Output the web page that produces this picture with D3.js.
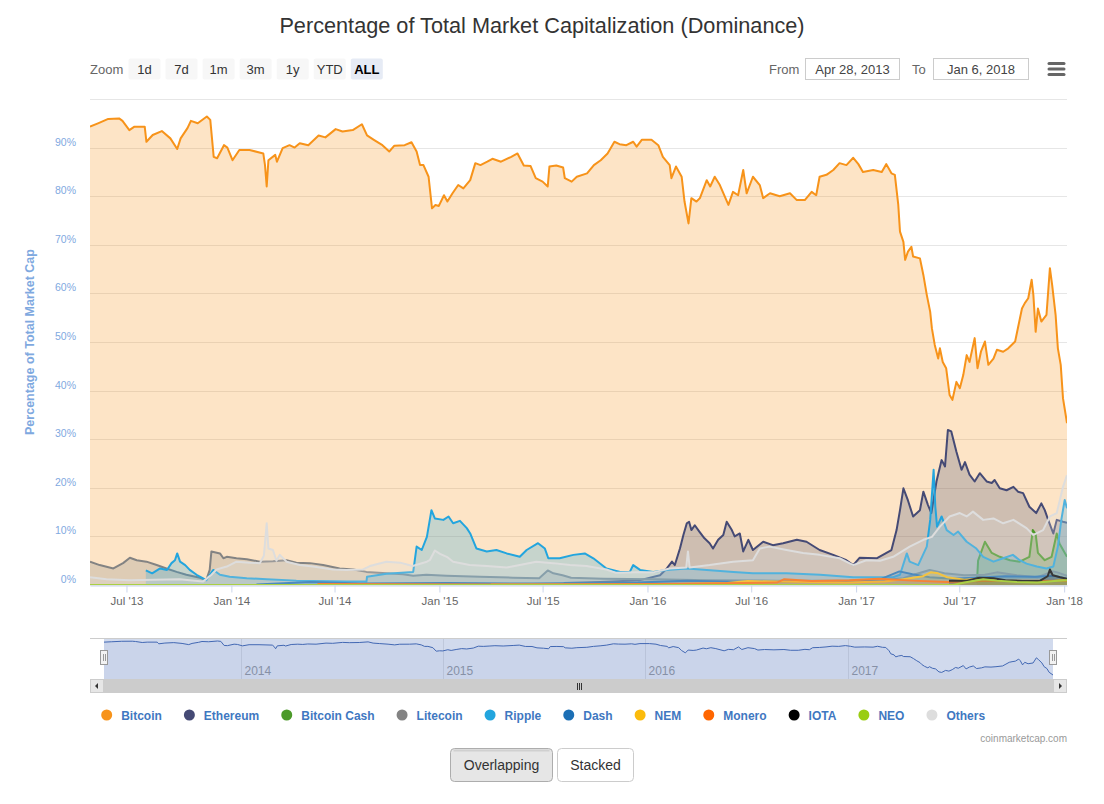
<!DOCTYPE html>
<html>
<head>
<meta charset="utf-8">
<script src="https://cdnjs.cloudflare.com/ajax/libs/d3/7.8.5/d3.min.js"></script>
<style>
body { margin: 0; background: #fff; }
svg { display: block; font-family: "Liberation Sans", Arial, sans-serif; }
</style>
</head>
<body>
<script>
// ---- data ----
var chartTitle = "Percentage of Total Market Capitalization (Dominance)";
var startDate = "2013-04-28";
var endDate = "2018-01-06";

var seriesNames = ["Bitcoin", "Ethereum", "Bitcoin Cash", "Litecoin", "Ripple", "Dash", "NEM", "Monero", "IOTA", "NEO", "Others"];
var seriesColors = ["#f7931a", "#454a75", "#4c9a2a", "#838383", "#23a5de", "#1c6fb5", "#fbbb0c", "#ff6600", "#000000", "#9acd12", "#dddddd"];

var bitcoin = [["2013-04-28",94.3],["2013-05-12",95.0],["2013-05-30",95.9],["2013-06-18",96.0],["2013-06-24",95.5],["2013-07-06",93.6],["2013-07-15",94.3],["2013-08-02",94.3],["2013-08-05",91.2],["2013-08-16",92.6],["2013-09-01",93.4],["2013-09-16",91.9],["2013-09-28",89.7],["2013-10-04",91.9],["2013-10-16",94.0],["2013-10-22",95.5],["2013-11-03",95.0],["2013-11-19",96.4],["2013-11-25",95.7],["2013-12-01",88.1],["2013-12-07",87.8],["2013-12-19",90.5],["2013-12-25",90.0],["2014-01-03",87.4],["2014-01-15",89.5],["2014-02-02",89.5],["2014-02-26",88.8],["2014-03-01",86.4],["2014-03-04",82.0],["2014-03-07",87.4],["2014-03-19",88.5],["2014-03-22",87.1],["2014-04-01",89.9],["2014-04-13",90.5],["2014-04-22",90.0],["2014-05-01",90.9],["2014-05-16",90.5],["2014-06-03",92.5],["2014-06-15",92.1],["2014-07-03",93.8],["2014-07-15",93.3],["2014-08-02",93.6],["2014-08-18",94.8],["2014-08-27",92.5],["2014-09-08",91.6],["2014-09-23",90.5],["2014-10-05",89.2],["2014-10-14",90.4],["2014-11-01",90.5],["2014-11-13",91.1],["2014-11-22",89.2],["2014-11-28",86.4],["2014-12-04",86.4],["2014-12-13",84.0],["2014-12-19",77.5],["2014-12-25",78.2],["2014-12-31",78.0],["2015-01-09",80.2],["2015-01-15",78.9],["2015-01-24",80.6],["2015-02-03",82.3],["2015-02-12",81.6],["2015-02-24",83.3],["2015-03-05",86.8],["2015-03-14",86.4],["2015-03-26",87.1],["2015-04-04",87.7],["2015-04-19",87.1],["2015-05-07",88.1],["2015-05-18",88.8],["2015-05-29",86.3],["2015-06-10",86.2],["2015-06-19",83.7],["2015-07-01",83.0],["2015-07-10",82.0],["2015-07-13",86.1],["2015-07-25",86.3],["2015-08-06",85.9],["2015-08-09",83.7],["2015-08-21",83.0],["2015-08-30",84.0],["2015-09-17",84.7],["2015-09-29",86.4],["2015-10-11",87.4],["2015-10-23",88.8],["2015-11-04",91.2],["2015-11-13",90.7],["2015-11-25",90.5],["2015-12-07",91.2],["2015-12-13",90.2],["2015-12-22",91.6],["2016-01-08",91.6],["2016-01-20",90.5],["2016-01-28",88.1],["2016-02-09",86.4],["2016-02-12",83.7],["2016-02-20",86.1],["2016-03-01",84.0],["2016-03-06",78.9],["2016-03-13",74.4],["2016-03-18",79.6],["2016-03-27",78.9],["2016-04-02",79.6],["2016-04-14",83.3],["2016-04-20",82.0],["2016-04-28",84.0],["2016-05-07",82.3],["2016-05-22",78.2],["2016-05-30",80.9],["2016-06-08",80.2],["2016-06-17",85.4],["2016-06-23",80.6],["2016-07-04",84.0],["2016-07-16",82.3],["2016-07-22",79.6],["2016-08-03",80.6],["2016-08-20",80.0],["2016-09-07",80.6],["2016-09-19",79.2],["2016-10-03",79.2],["2016-10-15",80.9],["2016-10-23",80.2],["2016-10-29",84.0],["2016-11-10",84.4],["2016-11-22",85.4],["2016-12-03",86.8],["2016-12-15",86.4],["2016-12-27",87.9],["2017-01-05",86.6],["2017-01-13",85.0],["2017-01-31",85.4],["2017-02-15",85.0],["2017-02-23",86.6],["2017-03-04",84.7],["2017-03-10",84.4],["2017-03-16",78.2],["2017-03-19",72.7],["2017-03-25",70.6],["2017-03-28",66.9],["2017-04-02",68.6],["2017-04-08",69.6],["2017-04-11",67.6],["2017-04-23",67.2],["2017-04-29",63.8],["2017-05-05",59.7],["2017-05-11",56.2],["2017-05-14",52.8],["2017-05-19",49.4],["2017-05-25",46.6],["2017-05-28",48.7],["2017-06-02",45.9],["2017-06-08",44.6],["2017-06-14",39.1],["2017-06-19",38.1],["2017-06-26",41.8],["2017-07-02",40.5],["2017-07-08",43.2],["2017-07-14",47.3],["2017-07-19",45.9],["2017-07-28",50.8],["2017-08-02",44.6],["2017-08-08",48.0],["2017-08-15",50.1],["2017-08-21",45.3],["2017-08-30",46.6],["2017-09-05",48.4],["2017-09-16",48.0],["2017-09-25",48.7],["2017-10-07",50.1],["2017-10-13",53.5],["2017-10-19",56.9],["2017-10-24",58.0],["2017-10-30",59.0],["2017-11-05",62.8],["2017-11-08",59.7],["2017-11-12",52.1],["2017-11-16",56.9],["2017-11-22",54.2],["2017-12-01",55.6],["2017-12-07",65.2],["2017-12-11",61.7],["2017-12-17",55.6],["2017-12-21",48.7],["2017-12-26",45.3],["2017-12-30",38.4],["2018-01-06",33.3]];

var ethereum = [["2015-08-07",0.4],["2015-10-10",0.6],["2015-12-19",1.0],["2016-01-23",2.0],["2016-02-04",3.4],["2016-02-13",4.8],["2016-02-18",4.1],["2016-02-27",7.5],["2016-03-04",10.3],["2016-03-10",12.7],["2016-03-14",13.0],["2016-03-18",11.3],["2016-03-24",12.3],["2016-04-01",11.0],["2016-04-10",9.6],["2016-04-19",8.6],["2016-04-25",7.5],["2016-05-04",9.3],["2016-05-13",10.3],["2016-05-19",13.0],["2016-05-28",11.3],["2016-06-02",10.0],["2016-06-11",10.6],["2016-06-17",6.9],["2016-06-26",9.3],["2016-07-04",7.2],["2016-07-22",8.9],["2016-08-08",8.2],["2016-08-26",8.6],["2016-09-19",9.3],["2016-10-06",8.9],["2016-10-29",7.2],["2016-11-22",6.2],["2016-12-15",5.1],["2016-12-27",4.1],["2017-01-07",5.6],["2017-02-06",5.5],["2017-02-17",6.2],["2017-03-04",7.2],["2017-03-13",11.3],["2017-03-19",15.4],["2017-03-25",19.9],["2017-04-02",17.4],["2017-04-11",14.1],["2017-04-23",15.4],["2017-04-29",19.2],["2017-05-07",16.5],["2017-05-13",14.8],["2017-05-22",21.3],["2017-05-31",25.7],["2017-06-06",24.4],["2017-06-11",31.9],["2017-06-17",31.6],["2017-06-26",27.4],["2017-07-05",23.7],["2017-07-11",25.3],["2017-07-19",22.7],["2017-07-28",21.3],["2017-08-06",23.0],["2017-08-18",21.3],["2017-08-27",21.0],["2017-09-01",21.6],["2017-09-10",19.9],["2017-09-22",19.5],["2017-10-04",20.2],["2017-10-12",19.2],["2017-10-21",18.9],["2017-11-01",16.1],["2017-11-13",14.8],["2017-11-22",16.8],["2017-11-28",15.4],["2017-12-04",13.4],["2017-12-13",10.6],["2017-12-19",13.4],["2017-12-30",13.0],["2018-01-06",12.8]];

var bitcoinCash = [["2017-08-01",0.5],["2017-08-03",5.0],["2017-08-15",8.9],["2017-08-27",6.6],["2017-09-10",5.8],["2017-09-28",5.1],["2017-10-15",4.8],["2017-11-01",5.8],["2017-11-07",11.3],["2017-11-12",10.5],["2017-11-16",6.6],["2017-11-28",5.1],["2017-12-10",5.8],["2017-12-19",10.6],["2017-12-24",8.5],["2018-01-06",5.8]];

var litecoin = [["2013-04-28",4.8],["2013-05-15",4.1],["2013-06-08",3.4],["2013-06-25",4.5],["2013-07-07",5.6],["2013-07-19",5.1],["2013-08-05",4.8],["2013-08-23",4.1],["2013-09-09",3.4],["2013-09-27",2.7],["2013-10-14",2.1],["2013-11-07",1.5],["2013-11-18",1.0],["2013-11-24",3.1],["2013-11-27",6.9],["2013-12-12",6.5],["2013-12-18",5.5],["2013-12-24",5.8],["2014-01-10",5.5],["2014-01-28",5.3],["2014-02-20",4.8],["2014-03-15",4.9],["2014-04-08",5.1],["2014-04-25",4.6],["2014-05-19",4.5],["2014-06-11",4.1],["2014-07-10",3.4],["2014-08-03",3.2],["2014-08-26",2.7],["2014-09-30",2.4],["2014-10-29",2.2],["2014-11-16",1.9],["2014-12-09",2.1],["2015-01-13",1.9],["2015-03-13",1.7],["2015-05-10",1.5],["2015-06-25",1.4],["2015-07-10",3.0],["2015-07-20",2.4],["2015-08-05",2.0],["2015-08-20",1.5],["2015-10-15",1.3],["2016-01-15",1.2],["2016-04-15",1.0],["2016-08-15",0.9],["2016-12-15",0.9],["2017-02-15",1.0],["2017-03-25",1.4],["2017-04-15",2.2],["2017-05-10",3.1],["2017-06-05",2.4],["2017-07-10",2.0],["2017-08-15",2.1],["2017-09-05",2.6],["2017-10-10",2.0],["2017-11-15",1.6],["2017-12-12",2.8],["2017-12-20",2.6],["2018-01-06",1.9]];

var ripple = [["2013-08-04",3.0],["2013-08-15",2.4],["2013-08-29",3.4],["2013-09-10",3.1],["2013-09-18",4.5],["2013-09-24",5.1],["2013-09-28",6.5],["2013-10-03",4.8],["2013-10-12",4.1],["2013-10-20",3.1],["2013-11-01",2.1],["2013-11-18",1.0],["2013-11-30",3.1],["2013-12-12",2.1],["2013-12-29",1.7],["2014-01-28",1.4],["2014-03-04",1.2],["2014-04-25",0.9],["2014-07-22",0.7],["2014-08-26",0.7],["2014-08-27",1.7],["2014-09-30",2.3],["2014-11-16",2.7],["2014-11-22",7.9],["2014-12-01",7.2],["2014-12-10",9.9],["2014-12-18",15.4],["2014-12-24",13.7],["2015-01-08",13.4],["2015-01-17",14.1],["2015-01-25",12.7],["2015-02-06",13.2],["2015-02-18",11.7],["2015-02-24",10.6],["2015-03-07",7.5],["2015-03-25",6.9],["2015-04-11",7.2],["2015-04-29",6.5],["2015-05-22",5.8],["2015-06-03",7.2],["2015-06-23",8.6],["2015-07-05",7.5],["2015-07-11",5.5],["2015-07-31",5.5],["2015-08-24",6.2],["2015-09-13",6.5],["2015-09-28",5.5],["2015-10-21",3.4],["2015-11-14",2.7],["2015-12-01",2.7],["2015-12-07",4.1],["2015-12-19",3.1],["2016-01-11",2.7],["2016-02-04",3.1],["2016-03-10",3.4],["2016-04-14",3.1],["2016-05-31",2.7],["2016-07-04",2.4],["2016-09-01",2.4],["2016-10-30",2.1],["2016-12-27",1.6],["2017-02-11",1.6],["2017-03-07",1.6],["2017-03-19",2.1],["2017-03-31",6.5],["2017-04-05",4.8],["2017-04-20",4.1],["2017-05-05",7.9],["2017-05-11",13.4],["2017-05-17",23.7],["2017-05-20",16.1],["2017-05-23",12.0],["2017-05-31",14.1],["2017-06-09",11.3],["2017-06-21",10.3],["2017-06-29",11.0],["2017-07-14",8.9],["2017-07-31",7.5],["2017-08-12",5.8],["2017-08-30",4.8],["2017-09-16",5.5],["2017-10-03",6.2],["2017-10-15",5.1],["2017-10-27",4.4],["2017-11-14",3.8],["2017-12-01",3.4],["2017-12-13",3.8],["2017-12-21",7.9],["2017-12-27",13.4],["2018-01-02",17.5],["2018-01-06",15.8]];

var dash = [["2014-02-14",0.1],["2014-05-20",0.6],["2014-08-15",0.3],["2015-01-15",0.4],["2015-06-15",0.3],["2015-12-15",0.5],["2016-03-10",0.9],["2016-06-15",0.6],["2016-10-15",0.7],["2016-12-31",0.6],["2017-02-15",1.3],["2017-03-18",2.8],["2017-04-10",2.2],["2017-05-10",1.6],["2017-06-20",1.3],["2017-08-15",1.6],["2017-09-20",1.8],["2017-11-10",1.7],["2017-12-15",1.9],["2018-01-06",1.3]];

var nem = [["2015-04-01",0.1],["2016-01-15",0.1],["2016-05-20",0.4],["2016-06-25",0.8],["2016-08-15",0.7],["2016-12-15",0.5],["2017-02-20",0.7],["2017-03-25",1.2],["2017-04-28",1.8],["2017-05-12",2.6],["2017-05-25",2.4],["2017-06-10",1.6],["2017-07-10",1.1],["2017-08-05",1.3],["2017-09-15",0.9],["2017-11-10",0.6],["2017-12-15",0.9],["2018-01-06",1.2]];

var monero = [["2014-06-01",0.2],["2015-06-01",0.1],["2016-01-15",0.2],["2016-08-15",0.5],["2016-08-28",1.2],["2016-10-15",0.8],["2016-12-20",1.0],["2017-02-10",1.3],["2017-04-10",0.9],["2017-06-10",0.6],["2017-08-10",0.8],["2017-10-10",0.9],["2017-12-10",0.9],["2018-01-06",0.8]];

var iota = [["2017-06-13",0.9],["2017-07-15",0.9],["2017-08-05",1.5],["2017-08-30",1.4],["2017-09-20",1.0],["2017-10-20",0.8],["2017-11-20",0.9],["2017-12-03",1.8],["2017-12-07",3.2],["2017-12-12",2.0],["2017-12-25",1.6],["2018-01-06",1.3]];

var neo = [["2013-04-28",0],["2017-06-20",0],["2017-07-10",0.5],["2017-08-12",1.2],["2017-09-05",0.9],["2017-10-10",0.6],["2017-11-15",0.5],["2017-12-15",0.8],["2018-01-06",1.0]];

var others = [["2013-04-28",1.6],["2013-05-27",1.2],["2013-07-07",1.0],["2013-10-02",1.2],["2013-11-12",0.7],["2013-11-27",2.1],["2013-12-06",3.2],["2013-12-24",3.8],["2014-01-10",4.8],["2014-02-02",4.6],["2014-02-20",4.5],["2014-02-27",6.0],["2014-03-04",12.7],["2014-03-07",7.5],["2014-03-15",7.2],["2014-03-21",5.0],["2014-03-27",6.2],["2014-04-08",4.8],["2014-05-01",4.1],["2014-05-24",3.8],["2014-06-28",3.2],["2014-07-22",3.1],["2014-08-20",3.2],["2014-09-01",3.9],["2014-09-30",4.8],["2014-10-24",4.6],["2014-11-15",3.9],["2014-12-10",4.8],["2014-12-15",5.1],["2014-12-24",7.1],["2015-01-02",6.4],["2015-01-14",5.8],["2015-01-25",4.8],["2015-02-23",4.1],["2015-03-25",3.9],["2015-04-29",3.6],["2015-05-22",4.1],["2015-06-20",4.8],["2015-07-19",4.5],["2015-08-18",4.1],["2015-09-16",3.9],["2015-10-21",3.2],["2015-11-07",2.5],["2015-12-12",2.6],["2016-01-11",2.6],["2016-02-09",3.4],["2016-03-09",3.6],["2016-03-12",6.9],["2016-03-15",3.6],["2016-04-19",4.1],["2016-05-30",4.8],["2016-07-04",5.1],["2016-07-16",7.5],["2016-08-02",7.9],["2016-09-01",7.2],["2016-09-30",6.6],["2016-10-29",6.2],["2016-12-03",5.5],["2016-12-27",4.1],["2017-01-19",5.1],["2017-02-12",5.0],["2017-03-07",5.8],["2017-04-05",7.9],["2017-04-29",9.3],["2017-05-14",9.9],["2017-05-28",12.0],["2017-06-14",14.1],["2017-07-02",14.8],["2017-07-14",14.1],["2017-07-25",15.1],["2017-08-12",13.4],["2017-08-30",13.7],["2017-09-16",12.7],["2017-10-04",13.4],["2017-10-27",11.7],["2017-11-08",10.3],["2017-11-25",11.3],["2017-12-07",14.1],["2017-12-19",14.8],["2017-12-30",20.2],["2018-01-06",22.6]];

var seriesData = [bitcoin, ethereum, bitcoinCash, litecoin, ripple, dash, nem, monero, iota, neo, others];

var yTicks = [0, 10, 20, 30, 40, 50, 60, 70, 80, 90];
var xTickDates = ["2013-07-01", "2014-01-01", "2014-07-01", "2015-01-01", "2015-07-01", "2016-01-01", "2016-07-01", "2017-01-01", "2017-07-01", "2018-01-01"];
var navYearDates = ["2014-01-01", "2015-01-01", "2016-01-01", "2017-01-01"];
var zoomButtons = ["1d", "7d", "1m", "3m", "1y", "YTD", "ALL"];
var fromLabel = "Apr 28, 2013";
var toLabel = "Jan 6, 2018";
var modeButtons = ["Overlapping", "Stacked"];

// ---- layout ----
var parseDate = d3.timeParse("%Y-%m-%d");
var plot = {left: 90, right: 1067, top: 99, bottom: 585};
var nav = {left: 104, right: 1053, top: 638, bottom: 679};

var svg = d3.select("body")
    .append("svg")
    .attr("width", 1104)
    .attr("height", 804);

var xScale = d3.scaleTime()
    .domain([parseDate(startDate), parseDate(endDate)])
    .range([plot.left, plot.right]);

var yScale = d3.scaleLinear()
    .domain([0, 100])
    .range([plot.bottom, plot.top]);

// title
svg.append("text")
    .attr("x", 542)
    .attr("y", 33)
    .attr("text-anchor", "middle")
    .attr("fill", "#333333")
    .style("font-size", "21.7px")
    .text(chartTitle);

// range selector
svg.append("text")
    .attr("x", 90)
    .attr("y", 73.5)
    .attr("fill", "#666666")
    .style("font-size", "13px")
    .text("Zoom");

var zoomGroup = svg.append("g").attr("class", "zoomButtons");
zoomButtons.forEach(function(label, i) {
    var bx = 128.5 + i * 37.05;
    var selected = label === "ALL";
    zoomGroup.append("rect")
        .attr("x", bx)
        .attr("y", 58.5)
        .attr("width", 32)
        .attr("height", 21)
        .attr("rx", 2)
        .attr("fill", selected ? "#e6ebf5" : "#f7f7f7");
    zoomGroup.append("text")
        .attr("x", bx + 16)
        .attr("y", 73.5)
        .attr("text-anchor", "middle")
        .attr("fill", selected ? "#000000" : "#333333")
        .style("font-size", "13px")
        .style("font-weight", selected ? "bold" : "normal")
        .text(label);
});

// from / to boxes
svg.append("text").attr("x", 769).attr("y", 73.5).attr("fill", "#666666").style("font-size", "13px").text("From");
svg.append("rect").attr("x", 805.5).attr("y", 58.5).attr("width", 94).attr("height", 21)
    .attr("fill", "#ffffff").attr("stroke", "#cccccc");
svg.append("text").attr("x", 852.5).attr("y", 73.5).attr("text-anchor", "middle")
    .attr("fill", "#444444").style("font-size", "13px").text(fromLabel);
svg.append("text").attr("x", 912).attr("y", 73.5).attr("fill", "#666666").style("font-size", "13px").text("To");
svg.append("rect").attr("x", 933.5).attr("y", 58.5).attr("width", 95).attr("height", 21)
    .attr("fill", "#ffffff").attr("stroke", "#cccccc");
svg.append("text").attr("x", 981).attr("y", 73.5).attr("text-anchor", "middle")
    .attr("fill", "#444444").style("font-size", "13px").text(toLabel);

// export menu icon
[63.5, 69, 74.5].forEach(function(yy) {
    svg.append("line")
        .attr("x1", 1049).attr("x2", 1064)
        .attr("y1", yy).attr("y2", yy)
        .attr("stroke", "#666666")
        .attr("stroke-width", 3)
        .attr("stroke-linecap", "round");
});

// grid lines
var gridGroup = svg.append("g").attr("class", "grid");
gridGroup.selectAll("line")
    .data(yTicks.concat([100]))
    .enter()
    .append("line")
        .attr("x1", plot.left)
        .attr("x2", plot.right)
        .attr("y1", function(d) { return Math.round(yScale(d)) + 0.5; })
        .attr("y2", function(d) { return Math.round(yScale(d)) + 0.5; })
        .attr("stroke", "#e6e6e6");

// y labels
svg.append("g").attr("class", "yLabels")
    .selectAll("text")
    .data(yTicks)
    .enter()
    .append("text")
        .attr("x", 76)
        .attr("y", function(d) { return yScale(d) - 2; })
        .attr("text-anchor", "end")
        .attr("fill", "#7fa9df")
        .style("font-size", "10.5px")
        .text(function(d) { return d + "%"; });

svg.append("text")
    .attr("transform", "translate(34," + ((plot.top + plot.bottom) / 2) + ") rotate(-90)")
    .attr("text-anchor", "middle")
    .attr("fill", "#7fa9df")
    .style("font-size", "12.5px")
    .style("font-weight", "bold")
    .text("Percentage of Total Market Cap");

// series
svg.append("clipPath")
    .attr("id", "plotClip")
    .append("rect")
    .attr("x", plot.left)
    .attr("y", plot.top)
    .attr("width", plot.right - plot.left)
    .attr("height", plot.bottom - plot.top);

var areaGen = d3.area()
    .x(function(d) { return xScale(parseDate(d[0])); })
    .y0(yScale(0))
    .y1(function(d) { return yScale(d[1]); });

var lineGen = d3.line()
    .x(function(d) { return xScale(parseDate(d[0])); })
    .y(function(d) { return yScale(d[1]); });

var seriesGroup = svg.append("g").attr("clip-path", "url(#plotClip)");
seriesData.forEach(function(points, i) {
    var g = seriesGroup.append("g").attr("class", "series");
    g.append("path")
        .attr("d", areaGen(points))
        .attr("fill", seriesColors[i])
        .attr("fill-opacity", 0.25);
    g.append("path")
        .attr("d", lineGen(points))
        .attr("fill", "none")
        .attr("stroke", seriesColors[i])
        .attr("stroke-width", 2)
        .attr("stroke-linejoin", "round");
});

// x axis
var xAxis = d3.axisBottom(xScale)
    .tickValues(xTickDates.map(parseDate))
    .tickFormat(d3.timeFormat("%b '%y"))
    .tickSizeInner(7)
    .tickSizeOuter(0)
    .tickPadding(4);

var xAxisGroup = svg.append("g")
    .attr("transform", "translate(0," + (plot.bottom + 0.5) + ")")
    .call(xAxis);
xAxisGroup.select(".domain").attr("stroke", "#ccd6eb");
xAxisGroup.selectAll(".tick line").attr("stroke", "#ccd6eb");
xAxisGroup.selectAll(".tick text")
    .attr("fill", "#666666")
    .style("font-family", "'Liberation Sans', Arial, sans-serif")
    .style("font-size", "11.5px");

// navigator
var navX = d3.scaleTime()
    .domain([parseDate(startDate), parseDate(endDate)])
    .range([nav.left, nav.right]);
var navY = d3.scaleLinear()
    .domain(d3.extent(bitcoin, function(d) { return d[1]; }))
    .range([675, 641]);

var navGroup = svg.append("g").attr("class", "navigator");
navYearDates.forEach(function(ds) {
    var gx = Math.round(navX(parseDate(ds))) + 0.5;
    navGroup.append("line")
        .attr("x1", gx).attr("x2", gx)
        .attr("y1", nav.top).attr("y2", nav.bottom)
        .attr("stroke", "#e6e6e6");
    navGroup.append("text")
        .attr("x", gx + 3)
        .attr("y", 674.5)
        .attr("fill", "#999999")
        .style("font-size", "12px")
        .text(ds.slice(0, 4));
});

navGroup.append("path")
    .attr("d", d3.area()
        .x(function(d) { return navX(parseDate(d[0])); })
        .y0(nav.bottom)
        .y1(function(d) { return navY(d[1]); })(bitcoin))
    .attr("fill", "#335cad")
    .attr("fill-opacity", 0.05);
navGroup.append("path")
    .attr("d", d3.line()
        .x(function(d) { return navX(parseDate(d[0])); })
        .y(function(d) { return navY(d[1]); })(bitcoin))
    .attr("fill", "none")
    .attr("stroke", "#335cad")
    .attr("stroke-width", 1);

navGroup.append("rect")
    .attr("x", nav.left)
    .attr("y", nav.top)
    .attr("width", nav.right - nav.left)
    .attr("height", nav.bottom - nav.top)
    .attr("fill", "rgba(102,133,194,0.3)");
navGroup.append("line")
    .attr("x1", plot.left).attr("x2", plot.right)
    .attr("y1", nav.top + 0.5).attr("y2", nav.top + 0.5)
    .attr("stroke", "#cccccc");

[nav.left, nav.right].forEach(function(hx) {
    navGroup.append("rect")
        .attr("x", hx - 3.5)
        .attr("y", 650.5)
        .attr("width", 7)
        .attr("height", 14)
        .attr("fill", "#f2f2f2")
        .attr("stroke", "#999999");
    [-1, 1].forEach(function(o) {
        navGroup.append("line")
            .attr("x1", hx + o + 0.5).attr("x2", hx + o + 0.5)
            .attr("y1", 654).attr("y2", 661)
            .attr("stroke", "#999999");
    });
});

// scrollbar
var sb = svg.append("g").attr("class", "scrollbar");
sb.append("rect").attr("x", plot.left).attr("y", 679).attr("width", plot.right - plot.left).attr("height", 14)
    .attr("fill", "#f2f2f2");
sb.append("rect").attr("x", nav.left).attr("y", 679).attr("width", nav.right - nav.left).attr("height", 14)
    .attr("fill", "#cccccc");
sb.append("rect").attr("x", plot.left + 0.5).attr("y", 679.5).attr("width", 13).attr("height", 13)
    .attr("fill", "#e6e6e6").attr("stroke", "#cccccc");
sb.append("rect").attr("x", plot.right - 13.5).attr("y", 679.5).attr("width", 13).attr("height", 13)
    .attr("fill", "#e6e6e6").attr("stroke", "#cccccc");
sb.append("path").attr("d", "M98,683 L95,686 L98,689 Z").attr("fill", "#333333");
sb.append("path").attr("d", "M1059,683 L1062,686 L1059,689 Z").attr("fill", "#333333");
[-2, 0, 2].forEach(function(o) {
    var gx = Math.round((nav.left + nav.right) / 2) + o + 0.5;
    sb.append("line").attr("x1", gx).attr("x2", gx).attr("y1", 683).attr("y2", 690)
        .attr("stroke", "#333333");
});

// legend
var legendGroup = svg.append("g").attr("class", "legend");
var cx = 106.7;
seriesNames.forEach(function(name, i) {
    legendGroup.append("circle")
        .attr("cx", cx)
        .attr("cy", 715)
        .attr("r", 5.5)
        .attr("fill", seriesColors[i]);
    var t = legendGroup.append("text")
        .attr("x", cx + 14.5)
        .attr("y", 719.5)
        .attr("fill", "#3f78c1")
        .style("font-size", "12px")
        .style("font-weight", "bold")
        .text(name);
    cx = cx + 14.5 + t.node().getComputedTextLength() + 27.5;
});

svg.append("text")
    .attr("x", plot.right)
    .attr("y", 742)
    .attr("text-anchor", "end")
    .attr("fill", "#999999")
    .style("font-size", "10px")
    .text("coinmarketcap.com");

// overlapping / stacked buttons
var btnX = [450.5, 557.5];
var btnW = [102, 76];
modeButtons.forEach(function(label, i) {
    var active = i === 0;
    svg.append("rect")
        .attr("x", btnX[i])
        .attr("y", 748.5)
        .attr("width", btnW[i])
        .attr("height", 33)
        .attr("rx", 4)
        .attr("fill", active ? "#e6e6e6" : "#ffffff")
        .attr("stroke", active ? "#adadad" : "#cccccc");
    if (active) {
        svg.append("line")
            .attr("x1", btnX[i] + 3).attr("x2", btnX[i] + btnW[i] - 3)
            .attr("y1", 750.5).attr("y2", 750.5)
            .attr("stroke", "#d0d0d0")
            .attr("stroke-width", 2);
    }
    svg.append("text")
        .attr("x", btnX[i] + btnW[i] / 2)
        .attr("y", 770)
        .attr("text-anchor", "middle")
        .attr("fill", "#333333")
        .style("font-size", "14px")
        .text(label);
});
</script>
</body>
</html>
